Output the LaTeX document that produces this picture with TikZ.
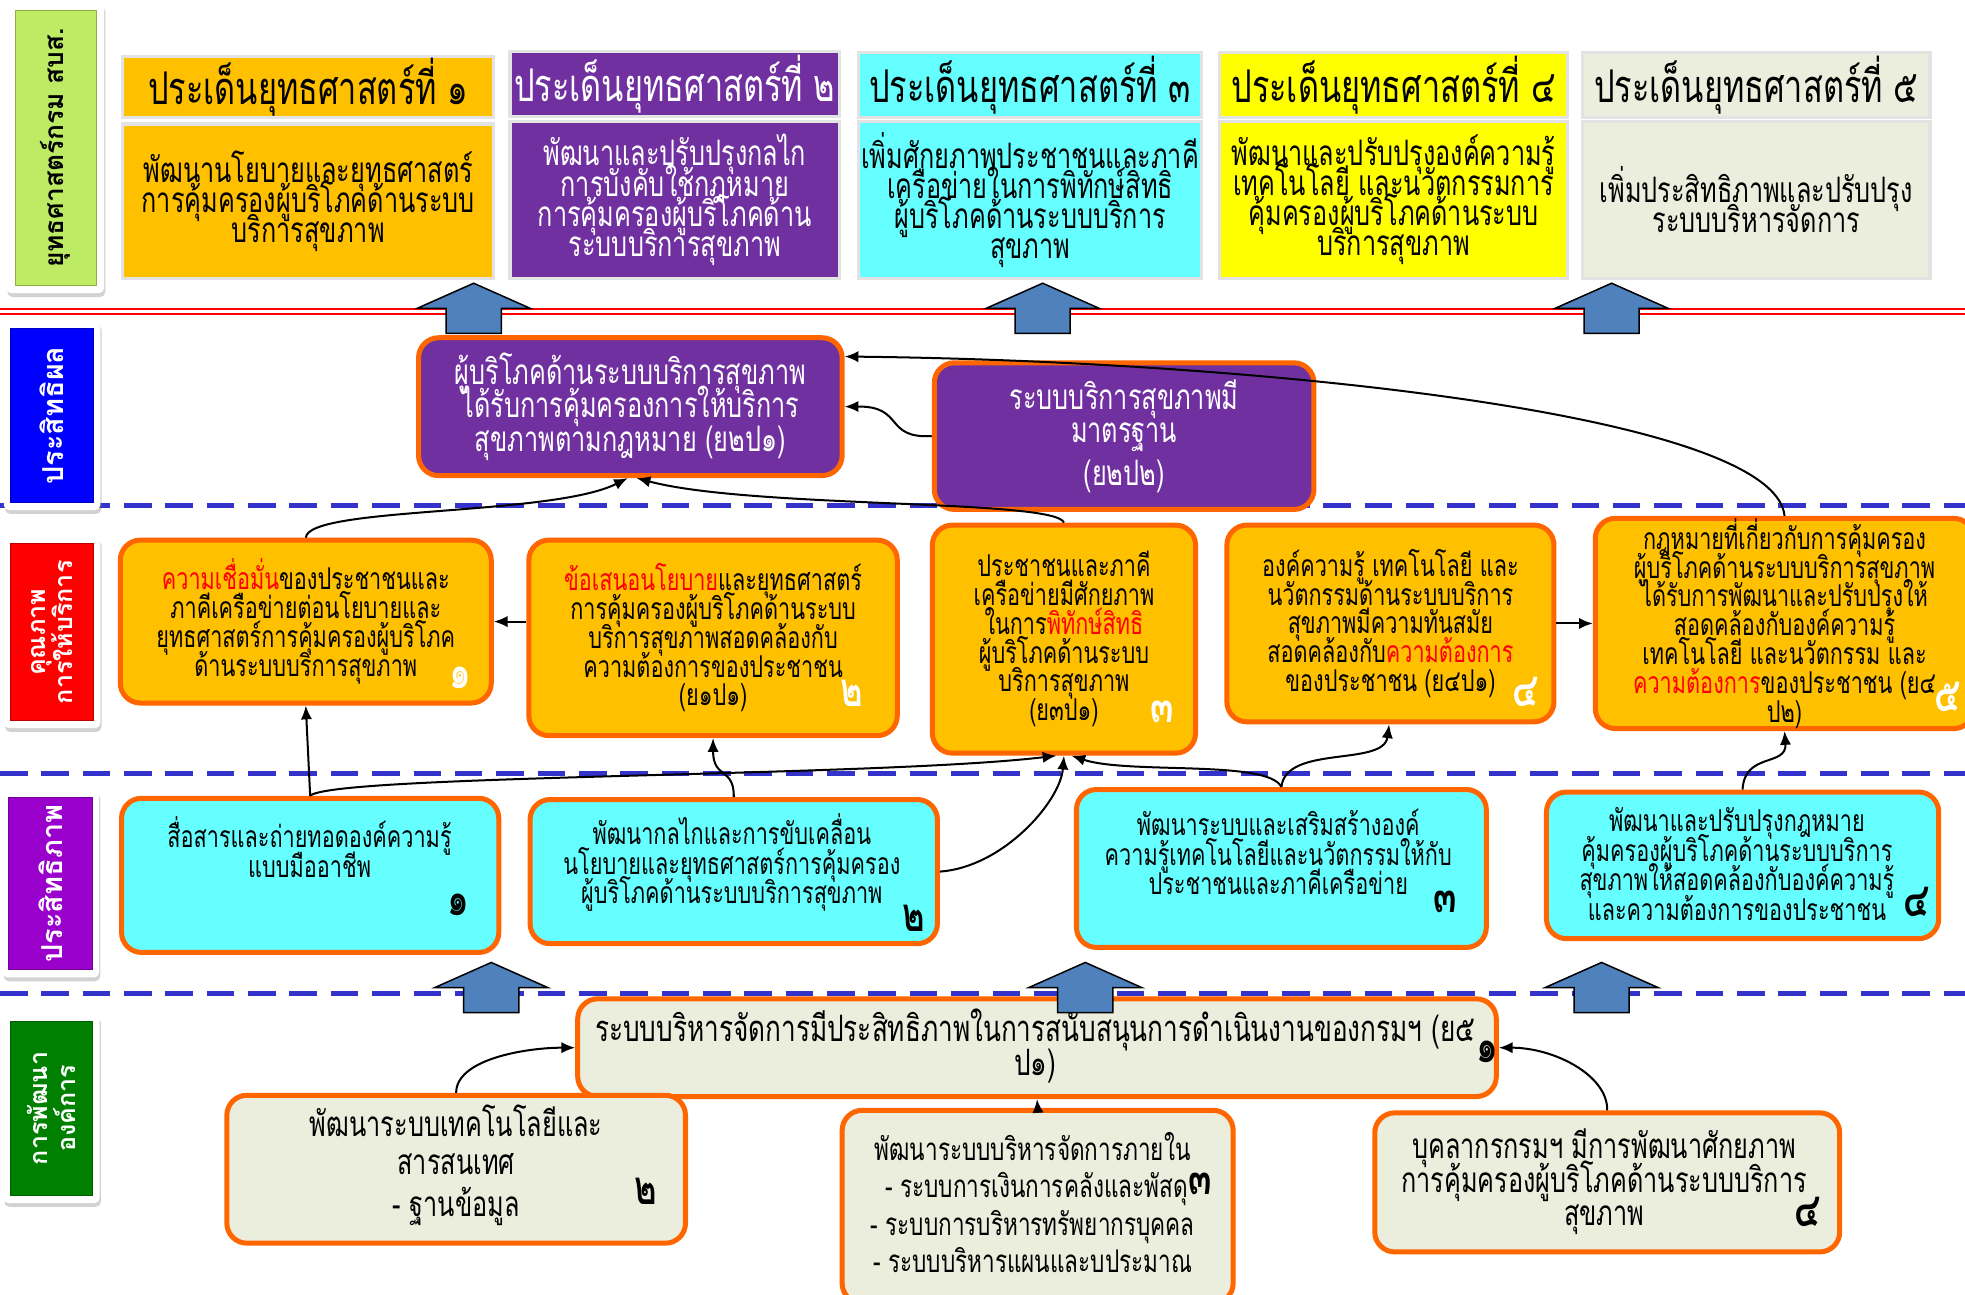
\documentclass[tikz,border=0pt]{standalone}
\usepackage{fontspec}
\newfontfamily\thai[Script=Thai,FakeStretch=0.72]{Loma}
\newfontfamily\thaiw[Script=Thai]{Loma}
\usetikzlibrary{arrows.meta,shadows}
\definecolor{gold}{HTML}{FFC000}
\definecolor{orng}{HTML}{FF6600}
\definecolor{purp}{HTML}{7030A0}
\definecolor{cyanb}{HTML}{66FFFF}
\definecolor{yel}{HTML}{FFFF00}
\definecolor{beige}{HTML}{EBEEDD}
\definecolor{arrblue}{HTML}{4F81BD}
\definecolor{dashb}{HTML}{3333CC}
\definecolor{lgreen}{HTML}{BDEB64}
\definecolor{lblue}{HTML}{0000FF}
\definecolor{lred}{HTML}{FF0000}
\definecolor{lpurp}{HTML}{9900CC}
\definecolor{dgreen}{HTML}{008000}
\lineskiplimit=-100pt
\begin{document}
\begin{tikzpicture}[x=1pt,y=-1pt,
  every node/.style={inner sep=0pt, execute at begin node={\lineskiplimit=-100pt\relax}},
  strat/.style={draw=gray!22, line width=2.5pt},
  obox/.style={draw=orng, line width=4pt, rounded corners=16pt},
  gbox/.style={obox, fill=gold},
  pbox/.style={obox, fill=purp},
  cbox/.style={obox, fill=cyanb},
  ebox/.style={obox, fill=beige},
  hdr/.style={font=\thai\fontsize{36}{36}\selectfont},
  tb1/.style={font=\thai\fontsize{28}{24}\selectfont, align=center},
  t2/.style={font=\thai\fontsize{28}{27}\selectfont, align=center, text=white},
  t3/.style={font=\thai\fontsize{24}{23}\selectfont, align=center},
  t4/.style={font=\thai\fontsize{24}{23.5}\selectfont, align=center},
  t5/.style={font=\thai\fontsize{28}{27}\selectfont, align=center},
  numw/.style={font=\thai\bfseries\fontsize{38}{38}\selectfont, text=white},
  numk/.style={font=\thai\bfseries\fontsize{38}{38}\selectfont, text=black},
  lblframe/.style={fill=white, rounded corners=4pt, drop shadow={shadow xshift=1pt, shadow yshift=-3pt, opacity=.35}},
  lbl/.style={draw=#1!75!black, line width=0.8pt, fill=#1},
  lbltxt/.style={font=\thaiw\bfseries\fontsize{21}{23}\selectfont, rotate=90, align=center, text=white},
  conn/.style={-{Latex[length=11pt,width=9pt]}, line width=1.6pt},
  dline/.style={dashb, line width=4pt, dash pattern=on 22pt off 11pt},
  uparrow/.pic={\draw[fill=arrblue, line width=1.2pt, line join=miter] (0,0) -- (45,20) -- (22,20) -- (22,40) -- (-22,40) -- (-22,20) -- (-45,20) -- cycle;}
]
\useasboundingbox (0,0) rectangle (1568,1033);
\fill[white] (0,0) rectangle (1568,1033);

% separators
\draw[dline] (0,403) -- (1568,403);
\draw[dline] (0,617) -- (1568,617);
\draw[dline] (0,793) -- (1568,793);
\draw[lred, line width=1.8pt, double=white, double distance=2.2pt] (0,248.4) -- (1568,248.4);

% left labels
\node[lblframe, minimum width=78pt, minimum height=232pt] (l1f) at (44,118) {};
\node[lbl=lgreen, minimum width=65pt, minimum height=220pt] (l1) at (44.5,118) {};
\node[lbltxt, text=black] (l1t) at (44.5,118) {ยุทธศาสตร์กรม สบส.};
\node[lblframe, minimum width=77pt, minimum height=151pt] (l2f) at (41.5,331.5) {};
\node[lbl=lblue, minimum width=67pt, minimum height=139pt] (l2) at (41.5,331.5) {};
\node[lbltxt, font=\thaiw\bfseries\fontsize{23}{23}\selectfont] (l2t) at (41.5,331.5) {ประสิทธิผล};
\node[lblframe, minimum width=77pt, minimum height=153pt] (l3f) at (41.5,504.5) {};
\node[lbl=lred, minimum width=67pt, minimum height=141pt] (l3) at (41.5,504.5) {};
\node[lbltxt, font=\thaiw\bfseries\fontsize{20}{22}\selectfont] (l3t) at (41.5,504.5) {คุณภาพ\\การให้บริการ};
\node[lblframe, minimum width=77pt, minimum height=150pt] (l4f) at (40.5,705) {};
\node[lbl=lpurp, minimum width=67pt, minimum height=138pt] (l4) at (40.5,705) {};
\node[lbltxt, font=\thaiw\bfseries\fontsize{23}{23}\selectfont] (l4t) at (40.5,705) {ประสิทธิภาพ};
\node[lblframe, minimum width=77pt, minimum height=151pt] (l5f) at (41,884.5) {};
\node[lbl=dgreen, minimum width=66pt, minimum height=139pt] (l5) at (41,884.5) {};
\node[lbltxt, font=\thaiw\bfseries\fontsize{20}{22}\selectfont] (l5t) at (41,884.5) {การพัฒนา\\องค์การ};

% strategy row
\node[strat, fill=gold, minimum width=296pt, minimum height=49pt, hdr] (h1) at (246,69.5) {ประเด็นยุทธศาสตร์ที่ ๑};
\node[strat, fill=gold, minimum width=296pt, minimum height=123pt, tb1] (b1) at (246,160.5) {พัฒนานโยบายและยุทธศาสตร์\\การคุ้มครองผู้บริโภคด้านระบบ\\บริการสุขภาพ};
\node[strat, fill=purp, minimum width=263pt, minimum height=52pt, hdr, text=white] (h2) at (538.5,67) {ประเด็นยุทธศาสตร์ที่ ๒};
\node[strat, fill=purp, minimum width=263pt, minimum height=125pt, tb1, text=white] (b2) at (538.5,159.5) {พัฒนาและปรับปรุงกลไก\\การบังคับใช้กฎหมาย\\การคุ้มครองผู้บริโภคด้าน\\ระบบบริการสุขภาพ};
\node[strat, fill=cyanb, minimum width=274pt, minimum height=52pt, hdr] (h3) at (822,68) {ประเด็นยุทธศาสตร์ที่ ๓};
\node[strat, fill=cyanb, minimum width=274pt, minimum height=125pt, tb1] (b3) at (822,159.5) {เพิ่มศักยภาพประชาชนและภาคี\\เครือข่ายในการพิทักษ์สิทธิ\\ผู้บริโภคด้านระบบบริการ\\สุขภาพ};
\node[strat, fill=yel, minimum width=278pt, minimum height=52pt, hdr] (h4) at (1112,68) {ประเด็นยุทธศาสตร์ที่ ๔};
\node[strat, fill=yel, minimum width=278pt, minimum height=125pt, tb1] (b4) at (1112,159.5) {พัฒนาและปรับปรุงองค์ความรู้\\เทคโนโลยี และนวัตกรรมการ\\คุ้มครองผู้บริโภคด้านระบบ\\บริการสุขภาพ};
\node[strat, fill=beige, minimum width=277pt, minimum height=52pt, hdr] (h5) at (1401.5,68) {ประเด็นยุทธศาสตร์ที่ ๕};
\node[strat, fill=beige, minimum width=277pt, minimum height=125pt, tb1] (b5) at (1401.5,159.5) {เพิ่มประสิทธิภาพและปรับปรุง\\ระบบบริหารจัดการ};

% outcome row
\node[pbox, minimum width=338pt, minimum height=110pt, t2] (a) at (503,324.5) {ผู้บริโภคด้านระบบบริการสุขภาพ\\ได้รับการคุ้มครองการให้บริการ\\สุขภาพตามกฎหมาย (ย๒ป๑)};
\node[pbox, minimum width=303pt, minimum height=117pt, t2] (b) at (897,348) {ระบบบริการสุขภาพมี\\มาตรฐาน\\[7pt](ย๒ป๒)};

% quality row
\node[gbox, minimum width=296pt, minimum height=130pt, t3] (c1) at (244,496) {\textcolor{lred}{ความเชื่อมั่น}ของประชาชนและ\\ภาคีเครือข่ายต่อนโยบายและ\\ยุทธศาสตร์การคุ้มครองผู้บริโภค\\ด้านระบบบริการสุขภาพ};
\node[gbox, minimum width=294pt, minimum height=156pt, t3] (c2) at (569,509) {\textcolor{lred}{ข้อเสนอนโยบาย}และยุทธศาสตร์\\การคุ้มครองผู้บริโภคด้านระบบ\\บริการสุขภาพสอดคล้องกับ\\ความต้องการของประชาชน\\(ย๑ป๑)};
\node[gbox, minimum width=210pt, minimum height=182pt, t3] (c3) at (849,510) {ประชาชนและภาคี\\เครือข่ายมีศักยภาพ\\ในการ\textcolor{lred}{พิทักษ์สิทธิ}\\ผู้บริโภคด้านระบบ\\บริการสุขภาพ\\(ย๓ป๑)};
\node[gbox, minimum width=261pt, minimum height=157pt, t3] (c4) at (1109.5,497.5) {องค์ความรู้ เทคโนโลยี และ\\นวัตกรรมด้านระบบบริการ\\สุขภาพมีความทันสมัย\\สอดคล้องกับ\textcolor{lred}{ความต้องการ}\\ของประชาชน (ย๔ป๑)};
\node[gbox, minimum width=302pt, minimum height=157pt, t3] (c5) at (1424,497.5) {กฎหมายที่เกี่ยวกับการคุ้มครอง\\ผู้บริโภคด้านระบบบริการสุขภาพ\\ได้รับการพัฒนาและปรับปรุงให้\\สอดคล้องกับองค์ความรู้\\เทคโนโลยี และนวัตกรรม และ\\\textcolor{lred}{ความต้องการ}ของประชาชน (ย๔\\ป๒)};
\node[numw] (c1n) at (367,541) {๑};
\node[numw] (c2n) at (680,553) {๒};
\node[numw] (c3n) at (927,568) {๓};
\node[numw] (c4n) at (1217,552) {๔};
\node[numw] (c5n) at (1554,556) {๕};

% efficiency row
\node[cbox, minimum width=301pt, minimum height=123pt] (d1) at (247.5,698.5) {};
\node[cbox, minimum width=325pt, minimum height=115pt] (d2) at (585.5,695.5) {};
\node[cbox, minimum width=327pt, minimum height=126pt] (d3) at (1022.5,693) {};
\node[cbox, minimum width=313pt, minimum height=117pt] (d4) at (1390.5,690.5) {};
\node[t4] (d1t) at (247,676) {สื่อสารและถ่ายทอดองค์ความรู้\\แบบมืออาชีพ};
\node[t4] (d2t) at (584,688.5) {พัฒนากลไกและการขับเคลื่อน\\นโยบายและยุทธศาสตร์การคุ้มครอง\\ผู้บริโภคด้านระบบบริการสุขภาพ};
\node[t4] (d3t) at (1020,680) {พัฒนาระบบและเสริมสร้างองค์\\ความรู้เทคโนโลยีและนวัตกรรมให้กับ\\ประชาชนและภาคีเครือข่าย};
\node[t4] (d4t) at (1386,689.5) {พัฒนาและปรับปรุงกฎหมาย\\คุ้มครองผู้บริโภคด้านระบบบริการ\\สุขภาพให้สอดคล้องกับองค์ความรู้\\และความต้องการของประชาชน};
\node[numk] (d1n) at (366,722) {๑};
\node[numk] (d2n) at (729,733) {๒};
\node[numk] (d3n) at (1153,720) {๓};
\node[numk] (d4n) at (1529,720) {๔};

% organisation row
\node[ebox, minimum width=733pt, minimum height=78pt] (e1) at (827.5,836) {};
\node[ebox, minimum width=366pt, minimum height=118pt] (e2) at (364,933) {};
\node[ebox, minimum width=312pt, minimum height=154pt] (e3) at (828,963) {};
\node[ebox, minimum width=371pt, minimum height=111pt] (e4) at (1282.5,943.5) {};
\node[t5, font=\thai\fontsize{29}{27}\selectfont] (e1t) at (826,834.5) {ระบบบริหารจัดการมีประสิทธิภาพในการสนับสนุนการดำเนินงานของกรมฯ (ย๕\\ป๑)};
\node[t5, font=\thai\fontsize{28}{30}\selectfont] (e2t) at (364,930) {พัฒนาระบบเทคโนโลยีและ\\สารสนเทศ\\[4pt]- ฐานข้อมูล};
\node[t5, font=\thai\fontsize{25}{30}\selectfont] (e3t) at (824,959.5) {พัฒนาระบบบริหารจัดการภายใน\\\ - ระบบการเงินการคลังและพัสดุ\\- ระบบการบริหารทรัพยากรบุคคล\\- ระบบบริหารแผนและบประมาณ};
\node[t5] (e4t) at (1280,943) {บุคลากรกรมฯ มีการพัฒนาศักยภาพ\\การคุ้มครองผู้บริโภคด้านระบบบริการ\\สุขภาพ};
\node[numk] (e1n) at (1187,839) {๑};
\node[numk] (e2n) at (515,951) {๒};
\node[numk] (e3n) at (958,945) {๓};
\node[numk] (e4n) at (1442,967) {๔};

% connectors
\draw[conn] (c1.north) .. controls (246,404) and (440,412) .. ([xshift=-2pt]a.south);
\draw[conn] (c3.north) .. controls (842,398) and (600,406) .. ([xshift=5pt]a.south);
\draw[conn] (b.west) .. controls (705,350) and (722,324) .. (a.east);
\draw[conn] (c5.north) .. controls (1416,330) and (1000,288) .. ([yshift=40pt]a.east);
\draw[conn] (c2.west |- c1.east) -- (c1.east);
\draw[conn] (c4.east) -- (c5.west);
\draw[conn] (d1.north) -- (c1.south);
\draw[conn] (d1.north) .. controls (265,618) and (700,620) .. ([xshift=-6pt]c3.south);
\draw[conn] (d2.north) .. controls (586,612) and (569,622) .. (c2.south);
\draw[conn] (d2.east) .. controls (800,692) and (846,640) .. (c3.south);
\draw[conn] (d3.north) .. controls (1012,606) and (900,618) .. ([xshift=6pt]c3.south);
\draw[conn] (d3.north) .. controls (1026,594) and (1104,612) .. ([xshift=-1pt]c4.south);
\draw[conn] (d4.north) .. controls (1392,600) and (1426,612) .. (c5.south);
\draw[conn] (e2.north) .. controls (364,845) and (420,836) .. (e1.west);
\draw[conn] (e3.north) -- (e1.south);
\draw[conn] (e4.north) .. controls (1283,858) and (1240,836) .. (e1.east);

% block arrows
\pic at (378,226) {uparrow};
\pic at (832,226) {uparrow};
\pic at (1286,226) {uparrow};
\pic at (392,768) {uparrow};
\pic at (866,768) {uparrow};
\pic at (1278,768) {uparrow};
\end{tikzpicture}
\end{document}
